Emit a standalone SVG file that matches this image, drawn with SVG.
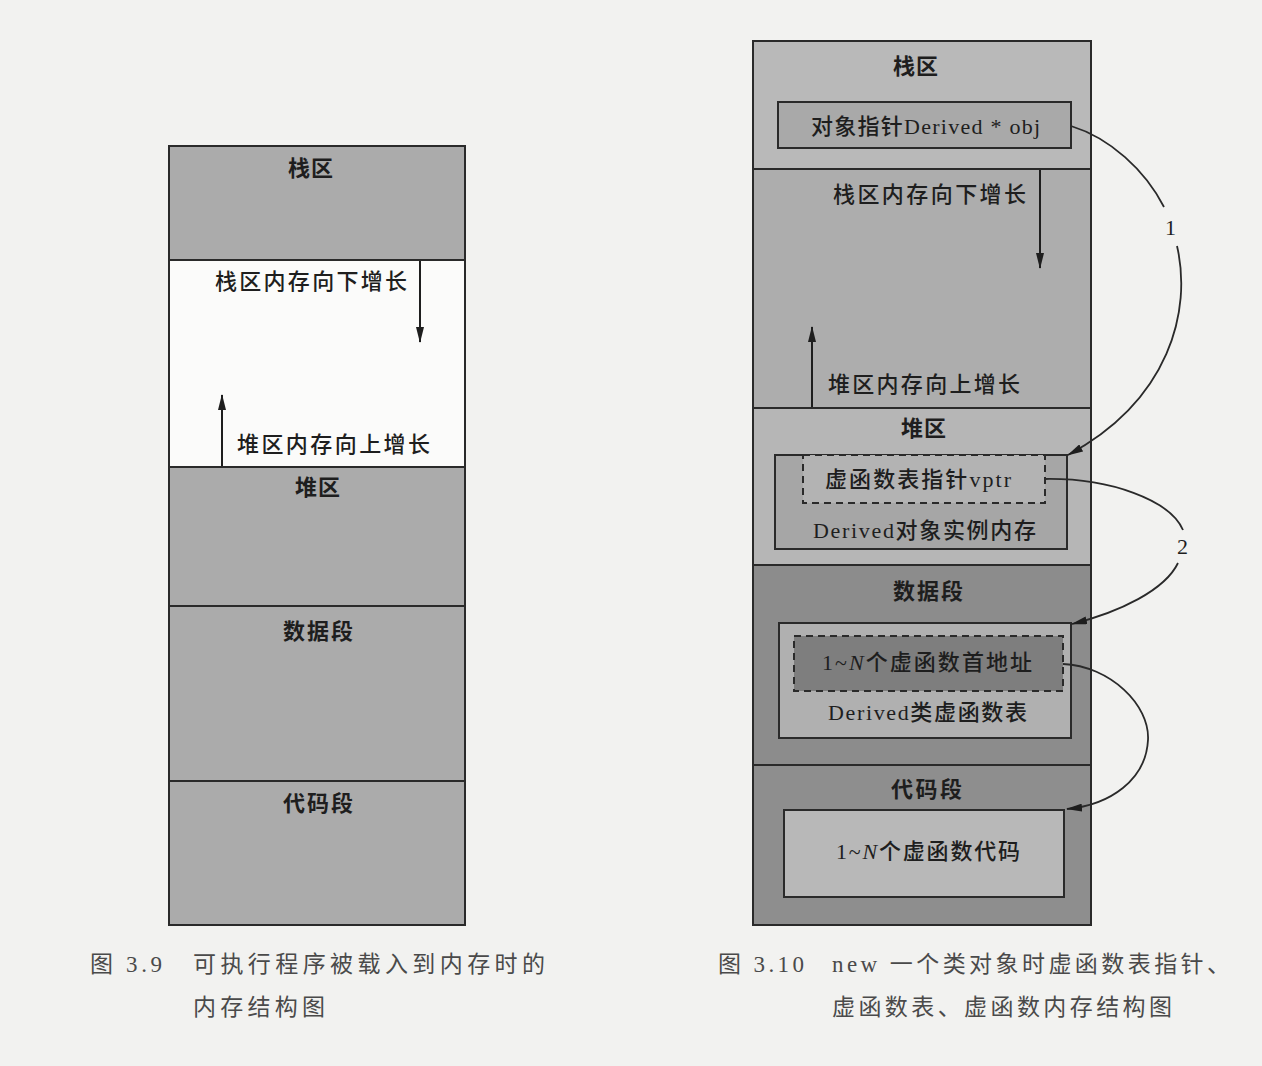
<svg xmlns="http://www.w3.org/2000/svg" width="1262" height="1066" viewBox="0 0 1262 1066">
<defs>
<marker id="ah" viewBox="0 0 16 8" refX="15" refY="4" markerWidth="16" markerHeight="8" markerUnits="userSpaceOnUse" orient="auto">
<path d="M0,0 L16,4 L0,8 Z" fill="#1e1e1e"/>
</marker>
<style>
.box{stroke:#2a2a2a;stroke-width:2}
.dash{stroke:#2a2a2a;stroke-width:2;stroke-dasharray:7,5}
.t{font-family:"Liberation Serif","Noto Sans CJK SC",serif;font-size:22px;font-weight:500;fill:#1e1e1e}
.h{font-weight:bold}
.c{font-family:"Liberation Serif","Noto Sans CJK SC",serif;font-size:23px;fill:#4a4a4a}
.ln{stroke:#1e1e1e;stroke-width:2;fill:none}
.cv{stroke:#2a2a2a;stroke-width:1.8;fill:none}
</style>
</defs>
<rect x="0" y="0" width="1262" height="1066" fill="#f2f2f0"/>

<!-- Left diagram -->
<g id="left-stack"><rect class="box" x="169" y="146" width="296" height="114" fill="#ababab"/><text class="t h" x="288" y="176" textLength="45">栈区</text></g>
<g id="left-free"><rect class="box" x="169" y="260" width="296" height="207" fill="#fbfbfa"/>
<text class="t" x="215" y="289" textLength="192">栈区内存向下增长</text>
<text class="t" x="237" y="452" textLength="193">堆区内存向上增长</text></g>
<g id="left-heap"><rect class="box" x="169" y="467" width="296" height="139" fill="#ababab"/><text class="t h" x="295" y="495" textLength="45">堆区</text></g>
<g id="left-data"><rect class="box" x="169" y="606" width="296" height="175" fill="#ababab"/><text class="t h" x="283" y="639" textLength="70">数据段</text></g>
<g id="left-code"><rect class="box" x="169" y="781" width="296" height="144" fill="#ababab"/><text class="t h" x="283" y="811" textLength="70">代码段</text></g>

<!-- Right diagram -->
<g id="right-stack"><rect class="box" x="753" y="41" width="338" height="128" fill="#b9b9b9"/><text class="t h" x="893" y="74" textLength="45">栈区</text></g>
<g id="obj-ptr"><rect class="box" x="778" y="102" width="293" height="46" fill="#a9a9a9"/><text class="t" x="811" y="134" textLength="229">对象指针Derived * obj</text></g>
<g id="right-free"><rect class="box" x="753" y="169" width="338" height="239" fill="#adadad"/>
<text class="t" x="833" y="202" textLength="193">栈区内存向下增长</text>
<text class="t" x="828" y="392" textLength="192">堆区内存向上增长</text></g>
<g id="right-heap"><rect class="box" x="753" y="408" width="338" height="157" fill="#b6b6b6"/><text class="t h" x="901" y="436" textLength="45">堆区</text></g>
<g id="derived-obj"><rect class="box" x="775" y="455" width="292" height="94" fill="#a6a6a6"/>
<rect class="dash" x="803" y="455" width="242" height="48" fill="#b3b3b3"/>
<text class="t" x="825" y="487" textLength="186">虚函数表指针vptr</text>
<text class="t" x="813" y="538" textLength="223">Derived对象实例内存</text></g>
<g id="right-data"><rect class="box" x="753" y="565" width="338" height="200" fill="#8c8c8c"/><text class="t h" x="893" y="599" textLength="70">数据段</text></g>
<g id="vtable"><rect class="box" x="779" y="623" width="292" height="115" fill="#b0b0b0"/>
<rect class="dash" x="794" y="636" width="269" height="55" fill="#7e7e7e"/>
<text class="t" x="822" y="670" textLength="210">1~<tspan font-style="italic">N</tspan>个虚函数首地址</text>
<text class="t" x="828" y="720" textLength="199">Derived类虚函数表</text></g>
<g id="right-code"><rect class="box" x="753" y="765" width="338" height="160" fill="#8e8e8e"/><text class="t h" x="891" y="797" textLength="71">代码段</text></g>
<g id="vfunc-code"><rect class="box" x="784" y="810" width="280" height="87" fill="#b8b8b8"/>
<text class="t" x="836" y="859" textLength="184">1~<tspan font-style="italic">N</tspan>个虚函数代码</text></g>

<!-- Connectors -->
<g id="connectors">
<line class="ln" x1="420" y1="261" x2="420" y2="342" marker-end="url(#ah)"/>
<line class="ln" x1="222" y1="466" x2="222" y2="395" marker-end="url(#ah)"/>
<line class="ln" x1="1040" y1="170" x2="1040" y2="268" marker-end="url(#ah)"/>
<line class="ln" x1="812" y1="407" x2="812" y2="327" marker-end="url(#ah)"/>
<path class="cv" d="M1071,126 C1110,138 1145,170 1164,207"/>
<path class="cv" d="M1177,246 C1192,310 1170,400 1068,455" marker-end="url(#ah)"/>
<path class="cv" d="M1045,479 C1110,478 1170,500 1183,530"/>
<path class="cv" d="M1178,563 C1165,590 1120,612 1072,624" marker-end="url(#ah)"/>
<path class="cv" d="M1063,664 C1110,666 1150,705 1148,740 C1146,780 1110,805 1067,809" marker-end="url(#ah)"/>
<text class="t" x="1165" y="235">1</text>
<text class="t" x="1177" y="554">2</text>
</g>

<!-- Captions -->
<g id="caption-39">
<text class="c" x="90" y="972" textLength="72">图 3.9</text>
<text class="c" x="193" y="972" textLength="352">可执行程序被载入到内存时的</text>
<text class="c" x="193" y="1015" textLength="132">内存结构图</text>
</g>
<g id="caption-310">
<text class="c" x="718" y="972" textLength="86">图 3.10</text>
<text class="c" x="832" y="972" textLength="398">new 一个类对象时虚函数表指针、</text>
<text class="c" x="832" y="1015" textLength="340">虚函数表、虚函数内存结构图</text>
</g>
</svg>
